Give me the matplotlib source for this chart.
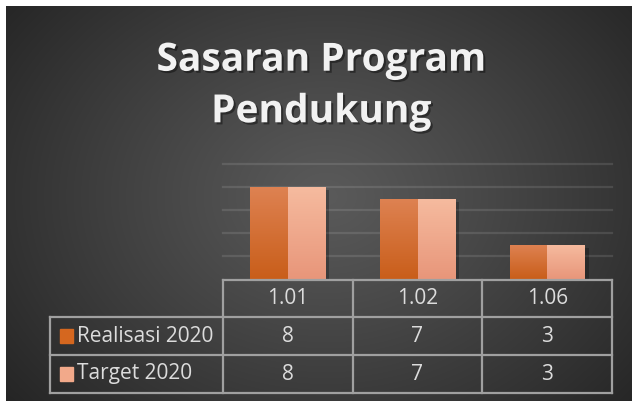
import matplotlib.pyplot as plt
import matplotlib.patheffects as pe
from matplotlib.colors import LinearSegmentedColormap
import numpy as np

# data
categories = ['1.01', '1.02', '1.06']
series_names = ['Realisasi 2020', 'Target 2020']
realisasi = [8, 7, 3]
target = [8, 7, 3]
title = 'Sasaran Program\nPendukung'

W, H = 632, 401
fig = plt.figure(figsize=(W / 100, H / 100), dpi=100)
fig.patch.set_facecolor('white')

# ---- background (radial gradient, dark) ----
bg = fig.add_axes([6 / W, 0, (W - 6) / W, (H - 6) / H], zorder=0)
yy, xx = np.mgrid[0:395, 0:626]
r = np.hypot((xx - 320) / 330, (yy - 190) / 260)
r = np.clip(r / r.max(), 0, 1)
c0, c1 = np.array([0x5a, 0x5a, 0x5a]) / 255, np.array([0x25, 0x25, 0x25]) / 255
t = r ** 1.1
img = c0[None, None, :] * (1 - t[..., None]) + c1[None, None, :] * t[..., None]
bg.imshow(img, aspect='auto', interpolation='bilinear')
bg.axis('off')

# ---- plot area ----
left, right, top, base = 223, 612, 164.3, 279.3
ax = fig.add_axes([left / W, 1 - base / H, (right - left) / W, (base - top) / H], zorder=1)
ax.patch.set_alpha(0)
for s in ax.spines.values():
    s.set_visible(False)
ax.set_xticks([])
ax.set_yticks([])

x = np.arange(len(categories))
bw = 0.289
series = [realisasi, target]
grads = [('#DE8252', '#C95E1A'), ('#F6BB9F', '#E8967A')]
for i, vals in enumerate(series):
    offs = (i - 0.5) * bw
    bars = ax.bar(x + offs, vals, width=bw, color=grads[i][1], zorder=2,
                  path_effects=[pe.SimplePatchShadow(offset=(3, -2), shadow_rgbFace='black', alpha=0.25),
                                pe.Normal()])
    cmap = LinearSegmentedColormap.from_list('g%d' % i, [grads[i][1], grads[i][0]])
    for b in bars:
        bx, bwid, bh = b.get_x(), b.get_width(), b.get_height()
        im = ax.imshow(np.linspace(0, 1, 64).reshape(-1, 1), cmap=cmap, origin='lower',
                       extent=[bx, bx + bwid, 0, bh], aspect='auto', zorder=3)
        im.set_clip_path(b)

for v in [2, 4, 6, 8, 10]:
    ax.axhline(v, color='white', alpha=0.11, lw=1.6, zorder=1, clip_on=False)
ax.set_xlim(-0.5, len(categories) - 0.5)
ax.set_ylim(0, 10)

# ---- title and data table (pixel coordinates) ----
ov = fig.add_axes([0, 0, 1, 1], zorder=2)
ov.set_xlim(0, W)
ov.set_ylim(H, 0)
ov.axis('off')
ov.patch.set_alpha(0)

ov.text(321, 86, title, ha='center', va='center', fontsize=28, fontweight='bold',
        family='Open Sans', color='#F2F2F2', linespacing=1.42,
        path_effects=[pe.withSimplePatchShadow(offset=(1.5, -1.5), shadow_rgbFace='black', alpha=0.4)])

lc, lw = '#A0A0A0', 1.6
cols = np.linspace(left, right, len(categories) + 1)
rows = [280, 317, 355, 393]
leg_x = 50
ov.plot([left, right], [rows[0], rows[0]], color=lc, lw=lw)
for yv in rows[1:]:
    ov.plot([leg_x, right], [yv, yv], color=lc, lw=lw)
ov.plot([leg_x, leg_x], [rows[1], rows[3]], color=lc, lw=lw)
for xv in cols:
    ov.plot([xv, xv], [rows[0], rows[3]], color=lc, lw=lw)

tc = '#DCDCDC'
fs = 15
for j, cat in enumerate(categories):
    cx = (cols[j] + cols[j + 1]) / 2
    ov.text(cx, (rows[0] + rows[1]) / 2, cat, ha='center', va='center',
            fontsize=fs, family='Open Sans', color=tc)
    for i, vals in enumerate(series):
        ov.text(cx, (rows[i + 1] + rows[i + 2]) / 2, str(vals[j]), ha='center', va='center',
                fontsize=fs, family='Open Sans', color=tc)

sq_colors = ['#D5671F', '#F2A98A']
for i, name in enumerate(series_names):
    cy = (rows[i + 1] + rows[i + 2]) / 2
    ov.add_patch(plt.Rectangle((60, cy - 7), 13, 14, color=sq_colors[i]))
    ov.text(77, cy, name, ha='left', va='center', fontsize=fs, family='Open Sans', color=tc)

fig.savefig('out.png', dpi=100)
